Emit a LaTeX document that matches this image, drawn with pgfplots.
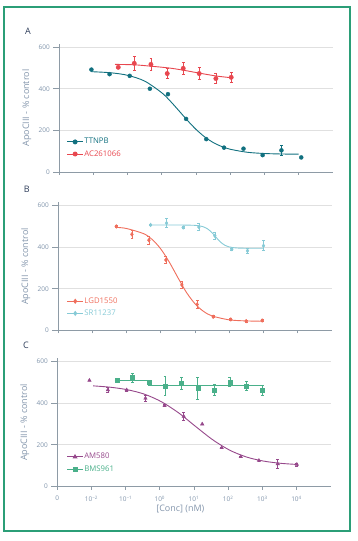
\documentclass[border=0pt]{standalone}
\usepackage{pgfplots}
\pgfplotsset{compat=1.18}
\usepackage{fontspec}
\setmainfont{Open Sans}
\definecolor{framecol}{HTML}{2B9E77}
\definecolor{axiscol}{HTML}{8E9BA6}
\definecolor{gridcol}{HTML}{E0E0E0}
\definecolor{tickcol}{HTML}{7F93AA}
\definecolor{labcol}{HTML}{8496AC}
\definecolor{letcol}{HTML}{2E3D5A}
\definecolor{ttnpb}{HTML}{11707F}
\definecolor{ac}{HTML}{E8474F}
\definecolor{lgd}{HTML}{EF6E5C}
\definecolor{sr}{HTML}{86CAD6}
\definecolor{am}{HTML}{96488B}
\definecolor{bms}{HTML}{4AB08A}

\pgfplotsset{
  panel/.style={
    scale only axis, width=273.4bp, height=128bp,
    xmin=-3, xmax=5, ymin=0, ymax=615,
    axis lines=left, axis line style={axiscol, line width=0.8bp, -},
    xtick={-3,-2,...,4}, ytick={0,200,400,600},
    xticklabels={},
    tick align=outside, major tick length=6bp,
    tick style={axiscol, line width=0.8bp},
    x tick style={/pgfplots/major tick length=3bp},
    ymajorgrids, grid style={gridcol, line width=0.8bp},
    /pgf/number format/assume math mode=true,
    y tick label style={font=\fontsize{6.5}{7}\selectfont, text=tickcol},
    x tick label style={font=\fontsize{6.5}{7}\selectfont, text=tickcol},
    ylabel={ApoCIII - \% control},
    ylabel style={font=\fontsize{9}{10}\selectfont, text=labcol, at={(axis description cs:-0.119,0.5)}, anchor=center},
    clip=false,
    legend style={draw=none, fill=none, inner sep=0pt, font=\fontsize{7.8}{9}\selectfont, row sep=3bp, nodes={inner sep=1bp}},
    legend cell align=left,
    legend image code/.code={\draw[mark repeat=2,mark phase=2,##1] plot coordinates {(0bp,0bp) (7.8bp,0bp) (15.6bp,0bp)};},
  },
  curve/.style={line width=0.9bp, smooth, forget plot},
  pts/.style={only marks, forget plot, mark options={solid},
    /pgfplots/error bars/y dir=both, /pgfplots/error bars/y explicit,
    /pgfplots/error bars/error bar style={line width=0.7bp},
    /pgfplots/error bars/error mark options={rotate=90, mark size=1.4bp, line width=0.7bp}},
}

\begin{document}
\begin{tikzpicture}
\path[use as bounding box] (0,0) rectangle (358bp,541bp);
\draw[framecol, line width=1.7bp] (4.2bp,9.8bp) rectangle (350.2bp,534.3bp);

% ---------------- Panel A
\begin{axis}[panel, at={(59.3bp,369bp)}, anchor=south west,
  legend style={at={(axis description cs:0.027,0.1875)}, anchor=west}]
\addplot[ttnpb, curve] coordinates {
(-2.06,482) (-1.5,476.8) (-1.0,464.6) (-0.5,436.6) (0,380.4) (0.25,340.2) (0.5,294.4) (0.75,247.7) (1.0,204.8) (1.25,169.2) (1.5,142) (1.75,122.6) (2.0,109.3) (2.5,94.8) (3.0,88.9) (3.5,86.5) (4.0,85.6)};
\addplot[ttnpb, pts, mark=*, mark size=2bp] coordinates {
(-2.06,492) +- (0,0) (-1.53,470) +- (0,0) (-0.94,462) +- (0,0) (-0.35,400) +- (0,0) (0.18,374) +- (0,0) (0.71,255) +- (0,0) (1.30,158) +- (0,0) (1.82,117) +- (0,0) (2.39,112) +- (0,0) (2.95,81) +- (0,0) (3.50,104) +- (0,24) (4.08,70) +- (0,0)};
\addplot[ac, curve] coordinates {
(-1.37,517) (-0.8,515) (-0.3,508) (0.2,500) (0.6,490) (1.1,475) (1.6,461) (2.03,453)};
\addplot[ac, pts, mark=*, mark size=2.2bp] coordinates {
(-1.275,503) +- (0,6) (-0.807,522) +- (0,32) (-0.319,517) +- (0,27) (0.158,473) +- (0,23) (0.626,498) +- (0,29) (1.094,473) +- (0,30) (1.582,449) +- (0,25) (2.03,455) +- (0,22)};
\addlegendimage{ttnpb, line width=0.9bp, mark=*, mark size=2bp}
\addlegendentry{\textcolor{ttnpb}{TTNPB}}
\addlegendimage{ac, line width=0.9bp, mark=*, mark size=2bp}
\addlegendentry{\textcolor{ac}{AC261066}}
\node[font=\fontsize{9}{10}\selectfont, text=letcol] at (axis description cs:-0.115,1.1) {A};
\end{axis}

% ---------------- Panel B
\begin{axis}[panel, at={(58.3bp,210.5bp)}, anchor=south west,
  legend style={at={(axis description cs:0.031,0.181)}, anchor=west}]
\addplot[lgd, curve] coordinates {
(-1.3,495.5) (-1.0,490) (-0.5,465) (-0.25,437) (0,391.5) (0.25,328) (0.5,254) (0.75,183) (1.0,128.4) (1.25,91.8) (1.5,70) (2.0,51.2) (2.5,46) (2.97,44.5)};
\addplot[lgd, pts, mark=diamond*, mark size=1.9bp] coordinates {
(-1.304,500) +- (0,5) (-0.846,462) +- (0,20) (-0.349,434) +- (0,18) (0.148,339) +- (0,16) (0.616,219) +- (0,17) (1.064,125) +- (0,18) (1.532,66) +- (0,5) (2.049,53) +- (0,4) (2.497,45) +- (0,4) (2.965,48) +- (0,4)};
\addplot[sr, curve] coordinates {
(-0.3,507) (0.5,507) (1.0,505.3) (1.125,502.9) (1.25,497.8) (1.375,487.5) (1.5,469.6) (1.625,446.2) (1.75,424.3) (1.875,409.6) (2.0,401.6) (2.125,397.9) (2.25,396.2) (2.5,395.2) (3.0,395)};
\addplot[sr, pts, mark=diamond*, mark size=1.9bp] coordinates {
(-0.3,507) +- (0,4) (0.168,516) +- (0,22) (0.655,495) +- (0,5) (1.113,497) +- (0,18) (1.581,455) +- (0,16) (2.078,391) +- (0,5) (2.536,383) +- (0,13) (3.004,407) +- (0,24)};
\addlegendimage{lgd, line width=0.9bp, mark=diamond*, mark size=1.9bp}
\addlegendentry{\textcolor{lgd}{LGD1550}}
\addlegendimage{sr, line width=0.9bp, mark=diamond*, mark size=1.9bp}
\addlegendentry{\textcolor{sr}{SR11237}}
\node[font=\fontsize{9}{10}\selectfont, text=letcol] at (axis description cs:-0.115,1.1) {B};
\end{axis}

% ---------------- Panel C
\begin{axis}[panel, at={(57.3bp,54.5bp)}, anchor=south west,
  xticklabels={0,10\textsuperscript{−2},10\textsuperscript{−1},10\textsuperscript{0},10\textsuperscript{1},10\textsuperscript{2},10\textsuperscript{3},10\textsuperscript{4}},
  xlabel={[Conc] (nM)},
  xlabel style={font=\fontsize{9}{10}\selectfont, text=labcol, at={(axis description cs:0.45,-0.176)}, anchor=center},
  legend style={at={(axis description cs:0.034,0.184)}, anchor=west}]
\addplot[am, curve] coordinates {
(-1.95,483.5) (-1.45,477) (-0.95,465) (-0.45,443.6) (0.05,407) (0.55,353.8) (1.05,288.2) (1.55,224.3) (2.05,174) (2.55,141) (3.05,121.7) (3.55,111.2) (4.01,106)};
\addplot[am, pts, mark=triangle*, mark size=2bp] coordinates {
(-2.06,510) +- (0,0) (-1.52,464) +- (0,10) (-0.97,464) +- (0,5) (-0.42,424) +- (0,14) (0.14,390) +- (0,5) (0.70,337) +- (0,19) (1.24,300) +- (0,0) (1.81,186) +- (0,0) (2.37,143) +- (0,4) (2.90,125) +- (0,3) (3.45,109) +- (0,22) (4.01,106) +- (0,7)};
\addplot[bms, line width=0.9bp, forget plot] coordinates {
(-1.32,511) (-0.32,511) (-0.32,484) (3.05,484)};
\addplot[bms, pts, mark=square*, mark size=2bp] coordinates {
(-1.26,510) +- (0,4) (-0.81,523) +- (0,21) (-0.32,499) +- (0,5) (0.15,484) +- (0,46) (0.64,494) +- (0,29) (1.11,473) +- (0,52) (1.59,465) +- (0,25) (2.05,502) +- (0,21) (2.54,483) +- (0,22) (3.00,462) +- (0,23)};
\addlegendimage{am, line width=0.9bp, mark=triangle*, mark size=2bp}
\addlegendentry{\textcolor{am}{AM580}}
\addlegendimage{bms, line width=0.9bp, mark=square*, mark size=2bp}
\addlegendentry{\textcolor{bms}{BMS961}}
\node[font=\fontsize{9}{10}\selectfont, text=letcol] at (axis description cs:-0.115,1.1) {C};
\end{axis}
\end{tikzpicture}
\end{document}
